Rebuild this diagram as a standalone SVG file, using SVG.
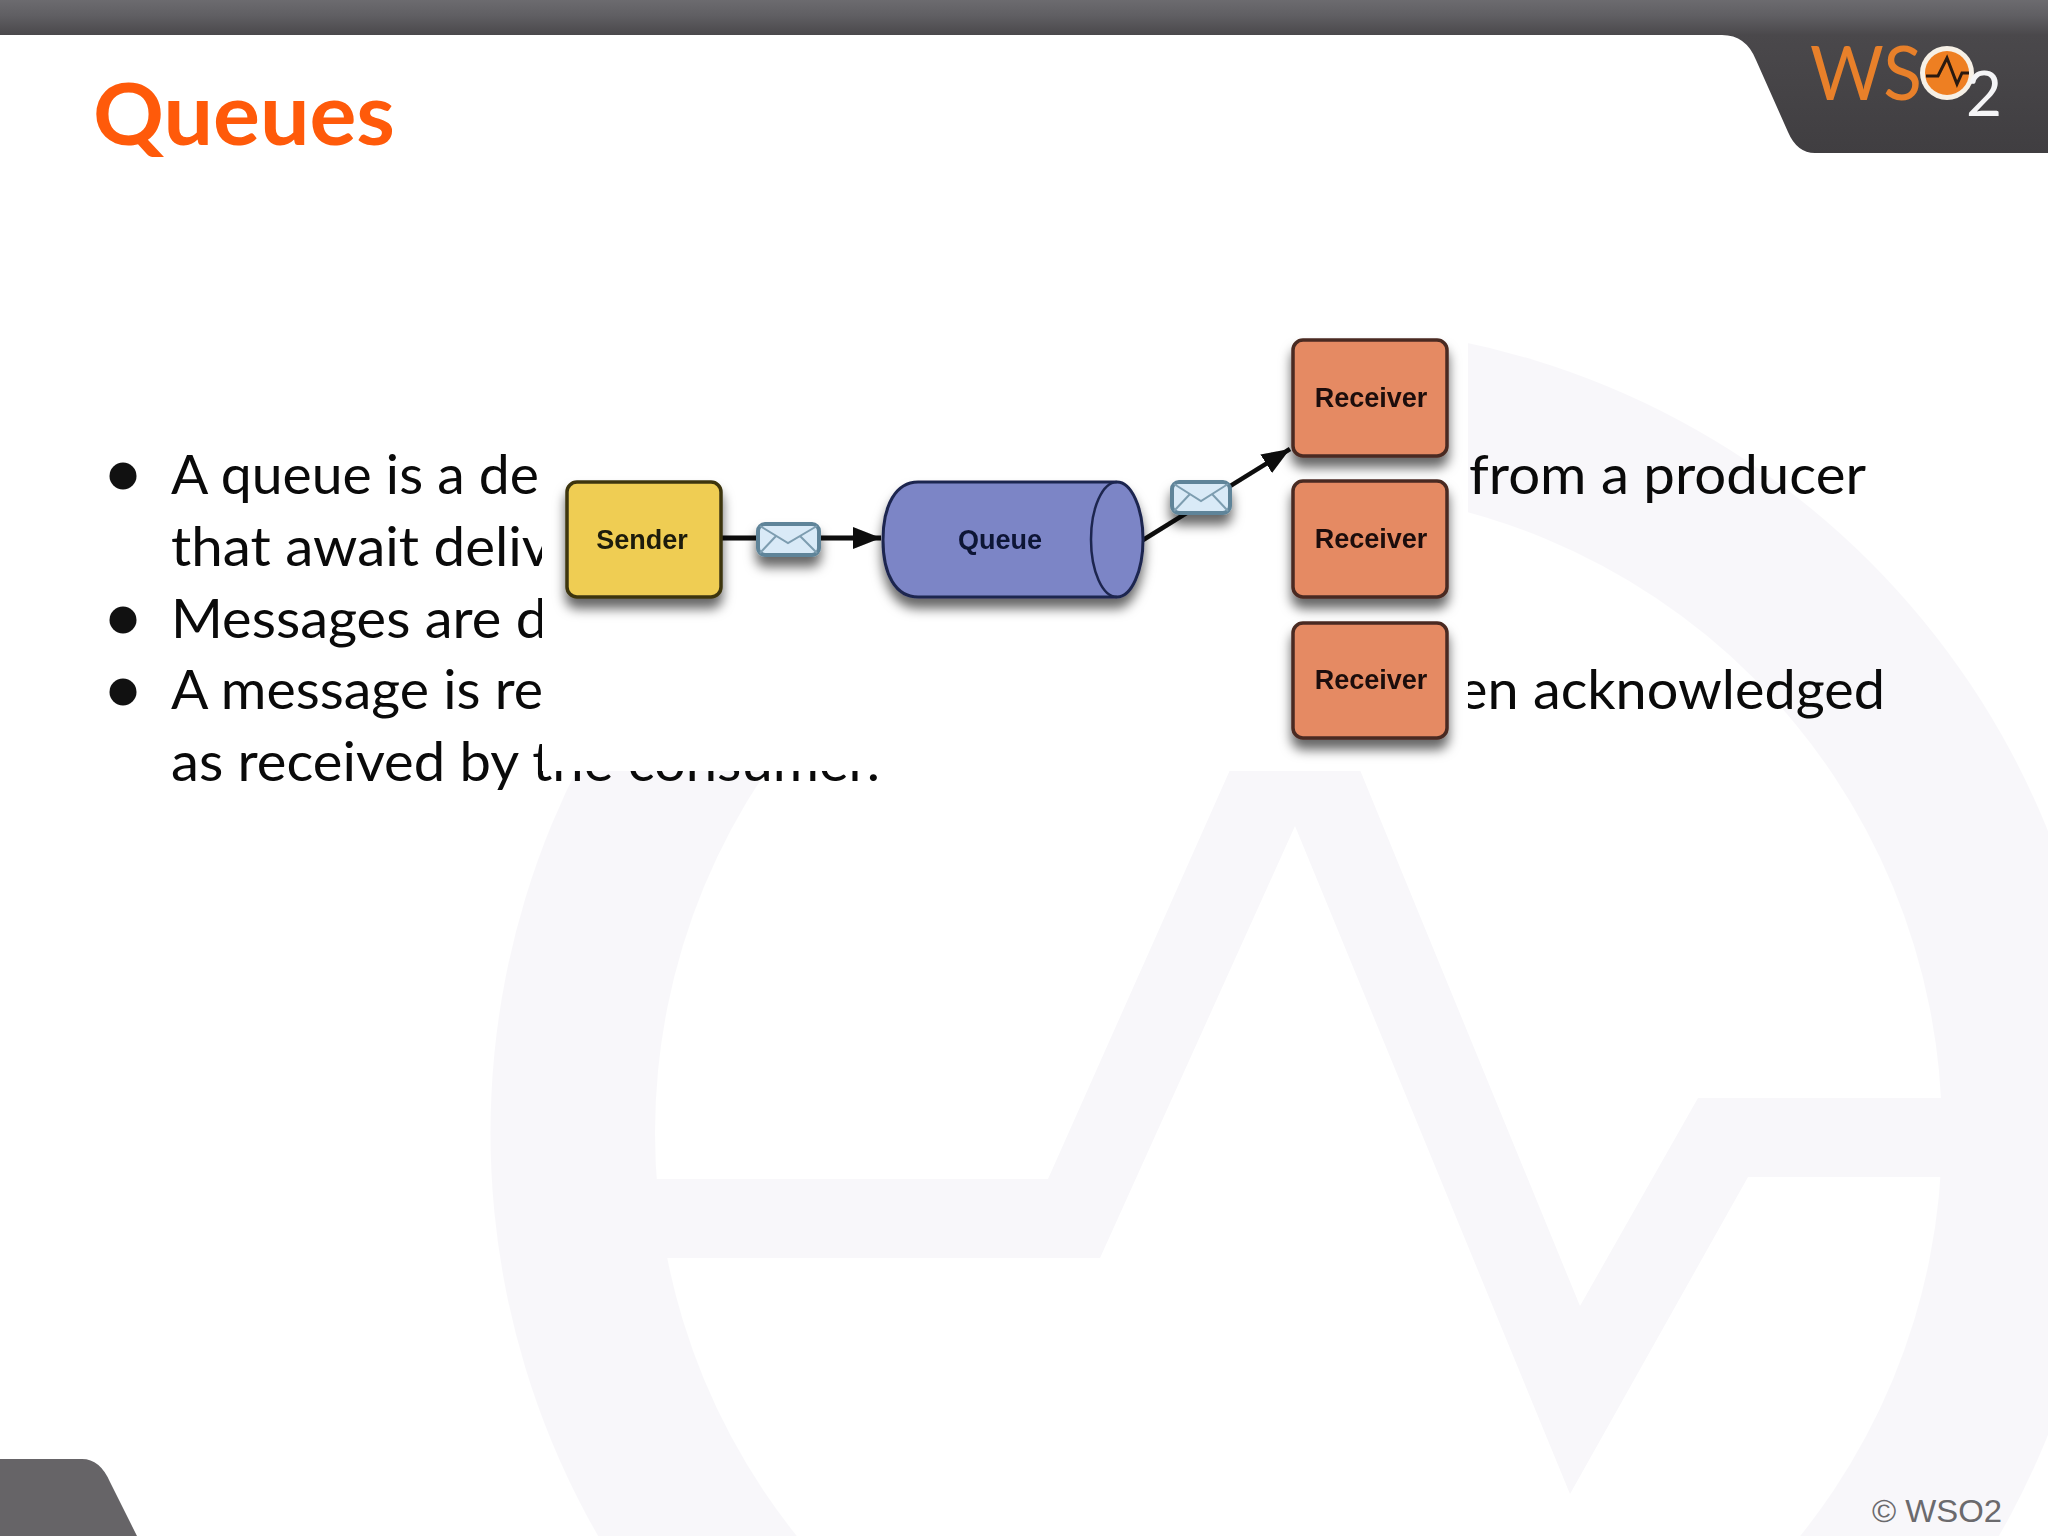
<svg xmlns="http://www.w3.org/2000/svg" width="2048" height="1536" viewBox="0 0 2048 1536">
<style>
.body{font-family:"Lato","Carlito","Liberation Sans",sans-serif;font-size:54px;fill:#0a0a0a}
.lbl{font-family:"Liberation Sans",Arial,sans-serif;font-size:27px;font-weight:bold;text-anchor:middle}
.node{filter:url(#sh)}
.recv{fill:#e58a64;stroke:#4a2a20;stroke-width:3.5}
.env{fill:#d9eaf7;stroke:#5f8499;stroke-width:4}
.flap{fill:none;stroke:#7d9db0;stroke-width:2}
.wm{fill:#f8f7fa}
.cn{stroke:#0a0a0a;fill:none}
</style>
<defs>
<linearGradient id="bar" x1="0" y1="0" x2="0" y2="1"><stop offset="0" stop-color="#6c6b6f"/><stop offset=".1" stop-color="#605f63"/><stop offset=".23" stop-color="#4a484b"/><stop offset="1" stop-color="#403e41"/></linearGradient>
<filter id="sh" x="-40%" y="-80%" width="180%" height="300%"><feGaussianBlur in="SourceGraphic" stdDeviation=".7" result="b"/><feDropShadow in="b" dx="0" dy="10" stdDeviation="6" flood-color="#000" flood-opacity=".6"/></filter>
<filter id="soft" x="-5%" y="-20%" width="110%" height="140%"><feGaussianBlur stdDeviation=".6"/></filter>
<marker id="ah" markerUnits="userSpaceOnUse" markerWidth="30" markerHeight="24" refX="28" refY="12" orient="auto"><path d="M0 1L28 12L0 23Z" fill="#0a0a0a"/></marker>
<mask id="ringm"><rect width="2048" height="1536" fill="#000"/><circle cx="1298.5" cy="1133" r="808" fill="#fff"/><circle cx="1298.5" cy="1133" r="643.5" fill="#000"/></mask>
</defs>
<rect width="2048" height="1536" fill="#fff"/>
<g id="watermark">
<rect class="wm" width="2048" height="1536" mask="url(#ringm)"/>
<path class="wm" d="M650 1179H1048L1230 770H1360L1580 1306L1698 1098H1950V1177H1748L1570 1494L1295 826L1100 1258H660Z"/>
</g>
<g id="header">
<path d="M0 0H2048V153H1815Q1797 153 1788 132L1756 60Q1746 35 1722 35H0Z" fill="url(#bar)"/>
<text x="1810" y="100" font-family="Lato,'Liberation Sans',sans-serif" font-weight="400" font-size="76" fill="#e8802a" textLength="112" lengthAdjust="spacingAndGlyphs">WS</text>
<circle cx="1947" cy="73" r="27" fill="#f6f0e6"/><circle cx="1947" cy="73" r="22" fill="#ee7f22"/>
<path d="M1926 76H1938L1947 58L1957 84L1962 73H1969" fill="none" stroke="#2a1a10" stroke-width="3"/>
<text x="1966" y="116" font-family="Lato,'Liberation Sans',sans-serif" font-weight="400" font-size="62" fill="#f4f4f6">2</text>
</g>
<path id="corner" d="M0 1459H82Q100 1459 110 1482L137 1536H0Z" fill="#666467"/>
<text id="title" x="93" y="145" font-family="Lato,'Liberation Sans',sans-serif" font-weight="bold" font-size="86" fill="#ff5a0a" textLength="302" lengthAdjust="spacingAndGlyphs">Queues</text>
<g id="bullets">
<circle cx="123" cy="476" r="13.5" fill="#111"/><circle cx="123" cy="620" r="13.5" fill="#111"/><circle cx="123" cy="692" r="13.5" fill="#111"/>
<text class="body" x="171" y="494" textLength="368" lengthAdjust="spacingAndGlyphs">A queue is a de</text>
<text class="body" x="171" y="566" textLength="380" lengthAdjust="spacingAndGlyphs">that await deliv</text>
<text class="body" x="171" y="638" textLength="376" lengthAdjust="spacingAndGlyphs">Messages are d</text>
<text class="body" x="171" y="709" textLength="372" lengthAdjust="spacingAndGlyphs">A message is re</text>
<text class="body" x="171" y="781" textLength="709" lengthAdjust="spacingAndGlyphs">as received by the consumer.</text>
<text class="body" x="1469" y="494" textLength="397" lengthAdjust="spacingAndGlyphs">from a producer</text>
<text class="body" x="1458" y="709" textLength="427" lengthAdjust="spacingAndGlyphs">en acknowledged</text>
</g>
<rect id="picture" x="542" y="320" width="926" height="451" fill="#fff"/>
<g id="connectors" filter="url(#soft)">
<path class="cn" stroke-width="5" d="M721 538H881" marker-end="url(#ah)"/>
<path class="cn" stroke-width="4.5" d="M1143 540L1290 449" marker-end="url(#ah)"/>
</g>
<g id="sender" class="node"><rect x="567" y="482" width="154" height="115" rx="10" fill="#efcd52" stroke="#3d3510" stroke-width="3.5"/><text class="lbl" x="642" y="549" fill="#1c1a08">Sender</text></g>
<g id="queue" class="node"><path d="M918 482H1117A26 57.5 0 0 1 1117 597H918C896 597 883 575 883 540C883 505 896 482 918 482Z" fill="#7b85c6" stroke="#1f2550" stroke-width="3"/><path d="M1117 482A26 57.5 0 0 0 1117 597" fill="none" stroke="#1f2550" stroke-width="2.5"/><text class="lbl" x="1000" y="549" fill="#0e1236">Queue</text></g>
<g id="receiver1" class="node"><rect class="recv" x="1293" y="340" width="154" height="116" rx="10"/><text class="lbl" x="1371" y="407" fill="#1e0f08">Receiver</text></g>
<g id="receiver2" class="node"><rect class="recv" x="1293" y="481" width="154" height="116" rx="10"/><text class="lbl" x="1371" y="548" fill="#1e0f08">Receiver</text></g>
<g id="receiver3" class="node"><rect class="recv" x="1293" y="623" width="154" height="115" rx="10"/><text class="lbl" x="1371" y="689" fill="#1e0f08">Receiver</text></g>
<g id="envelope1" class="node"><rect class="env" x="758" y="524" width="61" height="31" rx="7"/><path class="flap" d="M760 526L788 543L817 526M760 553L776 536M817 553L800 536"/></g>
<g id="envelope2" class="node"><rect class="env" x="1172" y="482" width="58" height="31" rx="7"/><path class="flap" d="M1174 484L1201 501L1228 484M1174 511L1190 494M1228 511L1212 494"/></g>
<text id="copyright" x="1872" y="1522" font-family="'Liberation Sans',Arial,sans-serif" font-size="32" fill="#6b6a6d" textLength="130" lengthAdjust="spacingAndGlyphs">© WSO2</text>
</svg>
